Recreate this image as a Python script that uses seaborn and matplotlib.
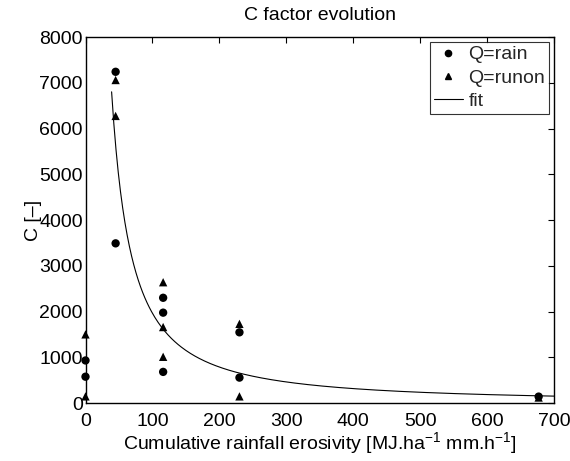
import numpy as np
import pandas as pd
import matplotlib
matplotlib.use("Agg")
import matplotlib.pyplot as plt
from matplotlib.lines import Line2D
import seaborn as sns

# ---- data ----
rain_x = [0, 0, 45, 45, 116, 116, 116, 230, 230, 677]
rain_y = [930, 575, 7240, 3490, 2300, 1975, 680, 1545, 555, 140]
runon_x = [0, 0, 45, 45, 116, 116, 116, 230, 230, 677]
runon_y = [1500, 145, 7060, 6275, 2640, 1660, 1010, 1730, 145, 120]
# power-law fit  C = a * R^b  (coefficients)
fit_a = 856700.0
fit_b = -1.32
fit_range = [39, 700]

x_ticks = [0, 100, 200, 300, 400, 500, 600, 700]
y_ticks = [0, 1000, 2000, 3000, 4000, 5000, 6000, 7000, 8000]

sns.set_theme(style="white")
plt.rcParams["font.family"] = ["Liberation Sans", "DejaVu Sans"]
plt.rcParams["mathtext.default"] = "regular"

FS = 14

df = pd.DataFrame({
    "R": rain_x + runon_x,
    "C": rain_y + runon_y,
    "Q": ["rain"] * len(rain_x) + ["runon"] * len(runon_x),
})
fit_x = np.linspace(fit_range[0], fit_range[1], 400)
fit_df = pd.DataFrame({"R": fit_x, "C": fit_a * fit_x ** fit_b})

fig = plt.figure(figsize=(5.70, 4.61), dpi=100)
ax = fig.add_axes([0.150, 0.1258, 0.822, 0.7939])

sns.lineplot(data=fit_df, x="R", y="C", ax=ax, color="black", linewidth=0.8,
             legend=False)
sns.scatterplot(data=df, x="R", y="C", style="Q",
                markers={"rain": "o", "runon": "^"}, color="black",
                s=36, edgecolor="black", linewidth=0, ax=ax, legend=False,
                zorder=3, clip_on=False)

ax.set_xlim(0, 700)
ax.set_ylim(0, 8000)
ax.set_xticks(x_ticks)
ax.set_yticks(y_ticks)
ax.tick_params(direction="in", length=4, width=0.8, top=True, right=True,
               labelsize=FS, colors="black")
ax.tick_params(axis="x", pad=7)
ax.tick_params(axis="y", pad=2)
for sp in ax.spines.values():
    sp.set_color("black")
    sp.set_linewidth(1.0)

ax.set_xlabel("Cumulative rainfall erosivity [MJ.ha$^{-1}$ mm.h$^{-1}$]",
              fontsize=FS, color="black", labelpad=0)
ax.set_ylabel("C [–]", fontsize=FS, color="black", labelpad=-2)
ax.set_title("C factor evolution", fontsize=FS, color="black", pad=12)

handles = [
    Line2D([], [], marker="o", color="black", linestyle="none", markersize=4.5),
    Line2D([], [], marker="^", color="black", linestyle="none", markersize=4.5),
    Line2D([], [], color="black", linewidth=0.8),
]
leg = ax.legend(handles, ["Q=rain", "Q=runon", "fit"], loc="upper right",
                fontsize=FS, frameon=True, fancybox=False, edgecolor="black",
                borderaxespad=0.25, handlelength=1.5, handletextpad=0.3,
                labelspacing=0.3, borderpad=0.2)
leg.get_frame().set_linewidth(0.8)

fig.savefig("out.png", dpi=100, facecolor="white")
